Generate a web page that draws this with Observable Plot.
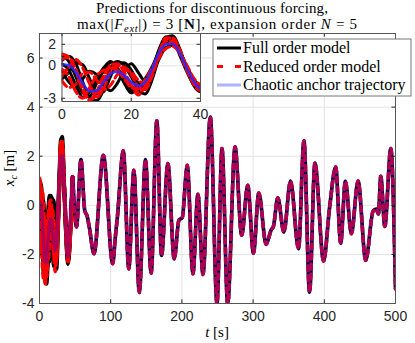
<!DOCTYPE html>
<html><head><meta charset="utf-8">
<script src="https://cdn.jsdelivr.net/npm/d3@7"></script>
<script src="https://cdn.jsdelivr.net/npm/@observablehq/plot@0.6"></script>
<style>
body{margin:0;background:#fff;}
#wrap{position:relative;width:415px;height:343px;}
#inset{position:absolute;left:40px;top:30px;}
</style></head><body><div id="wrap"><div id="main"></div><div id="inset"></div></div>
<script>
// early transient (t = 0..40 s): several initial conditions
const tEarly = [0,2,4,6,8,10,12,14,16,18,20,22,24,26,28,30,32,34,36,38,40];
const anchorEarly = [0.15,0.05,-0.6,-1.6,-2.35,-2.3,-1.5,-0.75,-0.55,-0.9,-1.5,-1.85,-1.5,-0.3,1.2,2.0,2.05,1.2,-0.2,-1.4,-2.1];
const fom1 = [0.5,0.9,0.2,-1.5,-3.0,-3.2,-2.2,-0.2,0.4,0.0,-1.0,-2.2,-2.6,-1.3,0.8,2.6,2.8,1.6,-0.3,-1.8,-2.4];
const fom2 = [-1.2,-0.6,0.3,0.1,-1.2,-2.6,-2.4,-1.0,0.2,0.3,-0.4,-1.6,-2.0,-0.8,1.0,2.2,2.2,1.3,-0.1,-1.3,-1.9];
const fom3 = [0.9,0.4,-1.0,-2.5,-2.8,-1.6,-0.5,0.3,-0.2,-1.2,-2.2,-2.5,-1.6,-0.4,1.5,2.7,2.4,1.0,-0.5,-1.7,-2.3];
const fom4 = [-0.5,-1.5,-2.0,-1.2,-0.5,-0.8,-1.8,-2.3,-1.6,-0.4,0.2,-0.6,-1.4,-0.8,0.6,1.7,1.9,1.3,0.0,-1.2,-1.8];
const fom5 = [0.2,-0.4,-1.8,-2.9,-2.4,-1.2,-0.2,0.4,-0.3,-1.6,-2.5,-2.0,-1.2,-0.1,1.3,2.4,2.5,1.4,-0.3,-1.5,-2.0];
const rom1 = [1.1,0.8,-0.3,-2.0,-3.1,-2.7,-1.4,0.1,0.2,-0.6,-1.7,-2.4,-2.0,-0.7,1.0,2.5,2.6,1.5,-0.2,-1.7,-2.3];
const rom2 = [-0.9,-0.1,0.6,-0.2,-1.7,-2.9,-2.1,-0.6,0.0,-0.1,-0.8,-1.9,-2.2,-1.0,0.9,2.1,2.1,1.2,-0.2,-1.4,-2.0];
const rom3 = [0.6,0.8,-0.5,-2.3,-3.2,-2.4,-0.9,-0.1,-0.4,-0.9,-1.8,-2.7,-1.9,-0.5,1.2,2.6,2.5,1.2,-0.4,-1.6,-2.2];
const rom4 = [-1.4,-2.0,-1.7,-0.7,-0.6,-1.3,-2.2,-1.8,-0.8,-0.4,-0.6,-1.3,-1.7,-0.6,0.7,1.6,1.8,1.2,0.1,-1.1,-1.7];
const rom5 = [-0.3,-1.0,-2.4,-3.0,-2.0,-0.9,-0.4,-0.2,-0.5,-1.2,-2.0,-2.1,-1.3,-0.2,1.1,2.3,2.3,1.3,-0.3,-1.5,-2.1];
// converged trajectory (t > 40 s)
const tMain = [46.5,52,58.2,63.5,67,70,76.5,89.7,102.8,106.5,109.5,117.8,125.4,132.5,140.2,148.8,156.8,164.8,171.4,180.3,189.2,195.8,200.5,207.5,215.5,222.5,229.6,239.9,249.3,256.3,264.3,274.6,284,292.5,300.5,308,318.3,325.4,328.6,334.7,343.2,352.6,363.8,371.4,379.3,386.8,399,407.5,416,423,429.6,438,447.4,458.2,468.5,473,476,479.3,485,493.4,500];
const xMain = [1.16,-0.88,1.86,-0.2,-0.45,-0.9,-1.97,2.04,-2.38,-1.3,-0.45,2.22,-2.59,1.43,-3.55,1.86,-2.76,3.44,-2.04,1.70,-2.18,-0.61,-0.5,1.63,-2.79,0.45,-2.82,3.6,-4.0,2.31,-4.0,2.38,-1.22,0.82,-1.95,0.5,-1.59,-1.0,-0.85,0.31,-1.09,0.99,-1.77,2.63,-3.54,1.72,-2.27,-0.07,1.56,-1.54,0.98,-1.16,0.99,-2.24,-0.24,-0.15,-0.35,1.18,-0.86,2.31,-3.4];
// ticks
const xTicks = [0,100,200,300,400,500];
const yTicks = [-4,-2,0,2,4,6];
const insetXTicks = [0,20,40];
const insetYTicks = [-3,0,2];
const legendLabels = ["Full order model","Reduced order model","Chaotic anchor trajectory"];

// early transients run up to the first converged sample
function early(arr, id){
  return tEarly.map((t,i)=>({t, v: arr[i], id})).concat([{t: tMain[0], v: xMain[0], id}]);
}
const converged = tMain.map((t,i)=>({t, v: xMain[i]}));
const fomEarly = [fom1,fom2,fom3,fom4,fom5].flatMap((a,k)=>early(a,k));
const romEarly = [rom1,rom2,rom3,rom4,rom5].flatMap((a,k)=>early(a,k));
const anchorData = tEarly.map((t,i)=>({t, v: anchorEarly[i]})).concat(converged);

const tickCol = "#262626";
const fmt = d => String(d);
const lineOpts = {x:"t", y:"v", curve:"monotone-x", clip:true};
const main = Plot.plot({
  width: 415, height: 343,
  marginLeft: 39, marginRight: 20, marginTop: 33, marginBottom: 40,
  style: {fontFamily: "'Liberation Sans', Arial, sans-serif", fontSize: "14px", color: tickCol, background: "white", overflow: "visible"},
  x: {domain: [0,500]},
  y: {domain: [-4,7]},
  marks: [
    Plot.ruleX([100,200,300,400], {stroke: "#e3e3e3"}),
    Plot.ruleY([-2,0,2,4,6], {stroke: "#e3e3e3"}),
    Plot.line(fomEarly, {...lineOpts, z:"id", stroke:"#000", strokeWidth:3.6}),
    Plot.line(converged, {...lineOpts, stroke:"#000", strokeWidth:3.6}),
    Plot.line(romEarly, {...lineOpts, z:"id", stroke:"#ff0000", strokeWidth:3.6, strokeDasharray:"5,5"}),
    Plot.line(converged, {...lineOpts, stroke:"#ff0000", strokeWidth:3.6, strokeDasharray:"5,5"}),
    Plot.line(anchorData, {...lineOpts, stroke:"#0000ff", strokeOpacity:0.32, strokeWidth:3.6}),
    Plot.ruleX(xTicks, {y1:-4, y2:-3.85, stroke:tickCol}),
    Plot.ruleX(xTicks, {y1:7, y2:6.85, stroke:tickCol}),
    Plot.ruleY(yTicks, {x1:0, x2:5, stroke:tickCol}),
    Plot.ruleY(yTicks, {x1:495, x2:500, stroke:tickCol}),
    Plot.frame({stroke:"#555"}),
    Plot.axisX({ticks: xTicks, tickSize:0, tickPadding:8, tickFormat: fmt, label:null}),
    Plot.axisY({ticks: yTicks, tickSize:0, tickPadding:5, tickFormat: fmt, label:null})
  ]
});
document.getElementById("main").appendChild(main);

const inset = Plot.plot({
  width: 165, height: 95,
  marginLeft: 21.5, marginRight: 5, marginTop: 3, marginBottom: 24,
  style: {fontFamily: "'Liberation Sans', Arial, sans-serif", fontSize: "14px", color: tickCol, background: "transparent", overflow: "visible"},
  x: {domain: [0,40]},
  y: {domain: [-3.3,3]},
  marks: [
    Plot.frame({fill:"white"}),
    Plot.ruleX([20], {stroke:"#e3e3e3"}),
    Plot.ruleY([-3,0,2], {stroke:"#e3e3e3"}),
    Plot.line(fomEarly, {...lineOpts, z:"id", stroke:"#000", strokeWidth:3}),
    Plot.line(romEarly, {...lineOpts, z:"id", stroke:"#ff0000", strokeWidth:3, strokeDasharray:"7,4"}),
    Plot.line(anchorData, {...lineOpts, stroke:"#2a2aff", strokeOpacity:0.9, strokeWidth:2.6}),
    Plot.ruleX(insetXTicks, {y1:-3.3, y2:-3.0, stroke:tickCol}),
    Plot.ruleX(insetXTicks, {y1:3, y2:2.7, stroke:tickCol}),
    Plot.ruleY(insetYTicks, {x1:0, x2:1, stroke:tickCol}),
    Plot.ruleY(insetYTicks, {x1:39, x2:40, stroke:tickCol}),
    Plot.frame({stroke:"#555"}),
    Plot.axisX({ticks: insetXTicks, tickSize:0, tickPadding:8, tickFormat: fmt, label:null}),
    Plot.axisY({ticks: insetYTicks, tickSize:0, tickPadding:6, tickFormat: fmt, label:null})
  ]
});
document.getElementById("inset").appendChild(inset);

// annotations: title, legend, axis labels
const svg = d3.select(main);
const serif = "'Liberation Serif', 'Times New Roman', serif";
const g = svg.append("g").attr("font-family", serif).attr("fill", "#000").attr("text-anchor", "middle");
g.append("text").attr("x", 212).attr("y", 12.5).attr("font-size", 15)
  .attr("textLength", 232).attr("lengthAdjust", "spacing")
  .text("Predictions for discontinuous forcing,");
const t2 = g.append("text").attr("x", 217).attr("y", 28.5).attr("font-size", 15)
  .attr("textLength", 280).attr("lengthAdjust", "spacing");
t2.append("tspan").text("max(|");
t2.append("tspan").attr("font-style","italic").text("F");
t2.append("tspan").attr("font-style","italic").attr("font-size", 10.5).attr("dy", 3).text("ext");
t2.append("tspan").attr("dy", -3).text("|) = 3 [");
t2.append("tspan").attr("font-weight","bold").text("N");
t2.append("tspan").text("], expansion order ");
t2.append("tspan").attr("font-style","italic").text("N");
t2.append("tspan").text(" = 5");

// legend
const lg = svg.append("g").attr("font-family", serif).attr("text-anchor", "start");
lg.append("rect").attr("x", 213).attr("y", 39).attr("width", 198).attr("height", 57)
  .attr("fill", "white").attr("stroke", "#777").attr("stroke-width", 1);
const rows = [48, 66.5, 85];
const styles = [
  {stroke:"#000", dash:null, op:1},
  {stroke:"#ff0000", dash:"6,12", op:1},
  {stroke:"#0000ff", dash:null, op:0.3}
];
legendLabels.forEach((lab, i) => {
  lg.append("line").attr("x1", 217).attr("x2", 241).attr("y1", rows[i]).attr("y2", rows[i])
    .attr("stroke", styles[i].stroke).attr("stroke-width", 3).attr("stroke-opacity", styles[i].op)
    .attr("stroke-dasharray", styles[i].dash);
  lg.append("text").attr("x", 243).attr("y", rows[i] + 5).attr("font-size", 16).attr("fill","#000").text(lab);
});

// axis labels
const xl = g.append("text").attr("x", 217).attr("y", 337).attr("font-size", 15);
xl.append("tspan").attr("font-style","italic").text("t");
xl.append("tspan").text(" [s]");
const yl = g.append("text").attr("transform","translate(14,168) rotate(-90)").attr("font-size", 15);
yl.append("tspan").attr("font-style","italic").text("x");
yl.append("tspan").attr("font-style","italic").attr("font-size", 10).attr("dy", 3).text("c");
yl.append("tspan").attr("dy", -3).text(" [m]");
</script></body></html>
